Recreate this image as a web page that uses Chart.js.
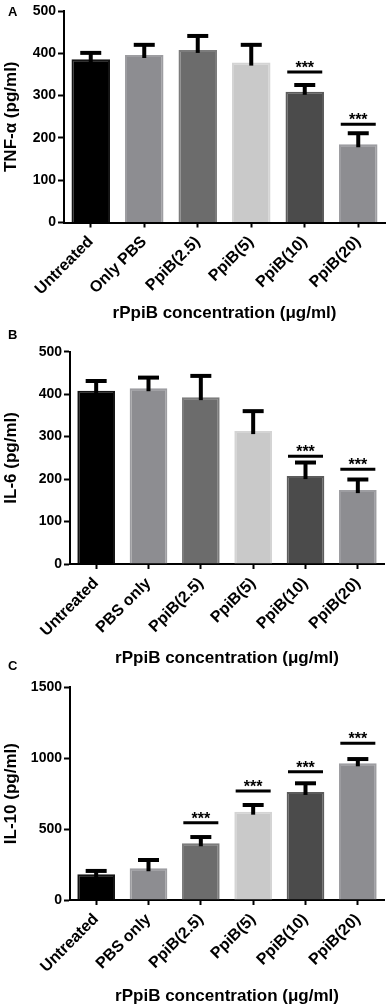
<!DOCTYPE html>
<html>
<head>
<meta charset="utf-8">
<script src="https://cdn.jsdelivr.net/npm/chart.js@4.4.1/dist/chart.umd.min.js"></script>
<style>
  html, body { margin: 0; padding: 0; background: #fff; }
  body { width: 389px; height: 1006px; position: relative; overflow: hidden; }
  .panel { position: absolute; left: 0; width: 389px; }
  .letter { position: absolute; left: 8px; font: bold 13px "Liberation Sans", Arial, sans-serif; line-height: 13px; color: #000; }
</style>
</head>
<body>
<div class="panel" style="top:0px;height:325px"><canvas id="chartA" width="389" height="325"></canvas></div>
<div class="panel" style="top:325px;height:343px"><canvas id="chartB" width="389" height="343"></canvas></div>
<div class="panel" style="top:668px;height:338px"><canvas id="chartC" width="389" height="338"></canvas></div>
<div class="letter" style="top:5px">A</div>
<div class="letter" style="top:328px">B</div>
<div class="letter" style="top:659px">C</div>
<script>
// categories
const labelsA = ['Untreated', 'Only PBS', 'PpiB(2.5)', 'PpiB(5)', 'PpiB(10)', 'PpiB(20)'];
const labelsBC = ['Untreated', 'PBS only', 'PpiB(2.5)', 'PpiB(5)', 'PpiB(10)', 'PpiB(20)'];

// A: TNF-alpha (pg/ml) - mean, top of error bar, height of *** line
const tnfMean = [386, 396, 408, 378, 309, 185];
const tnfUpper = [401, 420, 441, 420, 325, 211];
const tnfSig = [null, null, null, null, 356, 232];

// B: IL-6 (pg/ml)
const il6Mean = [408, 414, 393, 313, 207, 174];
const il6Upper = [431, 439, 443, 360, 239, 199];
const il6Sig = [null, null, null, null, 254, 223];

// C: IL-10 (pg/ml)
const il10Mean = [181, 224, 400, 623, 762, 964];
const il10Upper = [205, 282, 444, 670, 823, 994];
const il10Sig = [null, null, 545, 769, 905, 1105];

// y tick values
const ticksAB = [0, 100, 200, 300, 400, 500];
const ticksC = [0, 500, 1000, 1500];

const barFill = ['#000000', '#8d8d91', '#6c6c6c', '#c9c9c9', '#4b4b4b', '#8d8d91'];
const barEdge = ['#141414', '#9d9da1', '#7c7c7c', '#d4d4d4', '#5c5c5c', '#9d9da1'];

const FONT = '"Liberation Sans", Arial, sans-serif';

// error bars (upper only) and significance marks, placed with the y scale
const errorBars = {
    id: 'errorBars',
    afterDatasetsDraw(chart, args, opts) {
        const ctx = chart.ctx;
        const y = chart.scales.y;
        const meta = chart.getDatasetMeta(0);
        ctx.save();
        ctx.strokeStyle = '#000';
        ctx.fillStyle = '#000';
        meta.data.forEach((bar, i) => {
            const top = y.getPixelForValue(opts.upper[i]);
            ctx.lineWidth = 4;
            ctx.beginPath();
            ctx.moveTo(bar.x, bar.y + 3);
            ctx.lineTo(bar.x, top);
            ctx.stroke();
            ctx.beginPath();
            ctx.moveTo(bar.x - 10.5, top);
            ctx.lineTo(bar.x + 10.5, top);
            ctx.stroke();
            if (opts.sig[i] !== null) {
                const sy = y.getPixelForValue(opts.sig[i]);
                ctx.lineWidth = 3;
                ctx.beginPath();
                ctx.moveTo(bar.x - 17.5, sy);
                ctx.lineTo(bar.x + 17.5, sy);
                ctx.stroke();
                ctx.font = 'bold 16px ' + FONT;
                ctx.textAlign = 'center';
                ctx.textBaseline = 'alphabetic';
                ctx.fillText('***', bar.x, sy + 1);
            }
        });
        ctx.restore();
    }
};

function makeChart(id, p) {
    return new Chart(document.getElementById(id), {
        type: 'bar',
        data: {
            labels: p.labels,
            datasets: [{
                data: p.mean,
                backgroundColor: barFill,
                borderColor: barEdge,
                borderWidth: 2,
                categoryPercentage: 1,
                barPercentage: 0.72
            }]
        },
        options: {
            responsive: false,
            animation: false,
            layout: {padding: {top: p.padTop, right: p.padRight, left: 0, bottom: 0}},
            plugins: {
                legend: {display: false},
                tooltip: {enabled: false},
                errorBars: {upper: p.upper, sig: p.sig}
            },
            scales: {
                x: {
                    grid: {drawOnChartArea: false, offset: false, tickLength: 5, tickWidth: 2, tickColor: '#000'},
                    border: {color: '#000', width: 2},
                    ticks: {color: '#000', font: {family: FONT, size: 16, weight: 'bold'},
                        minRotation: 45, maxRotation: 45, autoSkip: false, padding: 5},
                    title: {display: true, text: 'rPpiB concentration (μg/ml)', color: '#000',
                        font: {family: FONT, size: 17, weight: 'bold', lineHeight: 1},
                        padding: {top: 0, bottom: p.titlePad}},
                    afterFit: s => { s.height = p.xHeight; }
                },
                y: {
                    min: 0,
                    max: p.ticks[p.ticks.length - 1],
                    grid: {drawOnChartArea: false, tickLength: 6, tickWidth: 2, tickColor: '#000'},
                    border: {color: '#000', width: 2},
                    ticks: {color: '#000', font: {family: FONT, size: 14, weight: 'bold'}, padding: 2,
                        callback: v => String(v)},
                    afterBuildTicks: s => { s.ticks = p.ticks.map(v => ({value: v})); },
                    title: {display: true, text: p.yTitle, color: '#000',
                        font: {family: FONT, size: 17, weight: 'bold', lineHeight: 1},
                        padding: {top: 3, bottom: 0}},
                    afterFit: s => { s.width = p.yWidth; }
                }
            }
        },
        plugins: [errorBars]
    });
}

makeChart('chartA', {labels: labelsA, mean: tnfMean, upper: tnfUpper, sig: tnfSig, ticks: ticksAB,
    yTitle: 'TNF-α (pg/ml)', padTop: 11, padRight: 4, yWidth: 64, xHeight: 102.5, titlePad: 3.5});
makeChart('chartB', {labels: labelsBC, mean: il6Mean, upper: il6Upper, sig: il6Sig, ticks: ticksAB,
    yTitle: 'IL-6 (pg/ml)', padTop: 26.7, padRight: 5, yWidth: 70, xHeight: 104, titlePad: 1.5});
makeChart('chartC', {labels: labelsBC, mean: il10Mean, upper: il10Upper, sig: il10Sig, ticks: ticksC,
    yTitle: 'IL-10 (pg/ml)', padTop: 19.3, padRight: 5, yWidth: 70, xHeight: 106, titlePad: 1.5});
</script>
</body>
</html>
